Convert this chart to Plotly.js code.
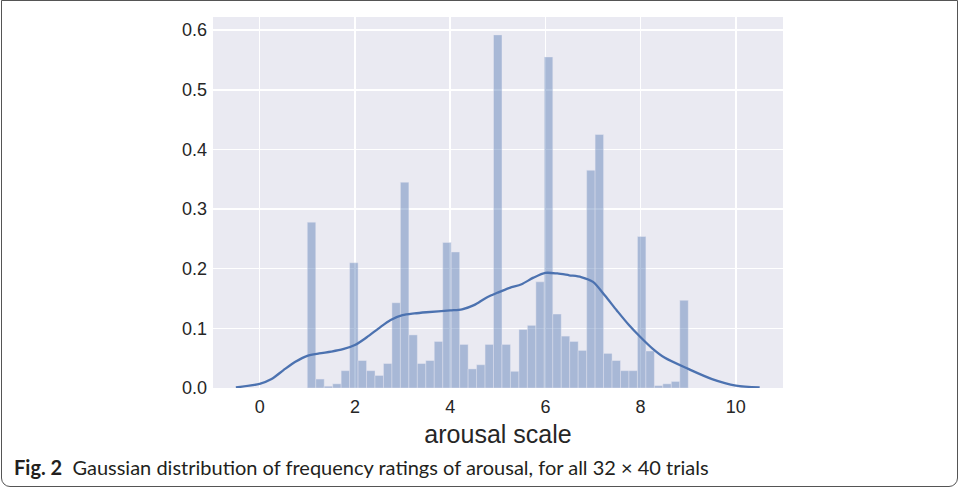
<!DOCTYPE html>
<html>
<head>
<meta charset="utf-8">
<script src="https://cdn.plot.ly/plotly-3.0.1.min.js"></script>
<style>
  html, body { margin: 0; padding: 0; background: #ffffff; }
  #frame { position: absolute; left: 0; top: 0; width: 959px; height: 490px; }
  #box { position: absolute; left: 1px; top: 0px; width: 955px; height: 485px;
         border: 1.5px solid #555; border-radius: 0 0 9px 9px; pointer-events: none; }
  #chart { position: absolute; left: 0; top: 0; width: 959px; height: 490px; }
</style>
</head>
<body>
<div id="frame">
  <div id="chart"></div>
  <div id="box"></div>
</div>
<script>
// Histogram: 45 equal bins between binLo and binHi (density values)
const binLo = 1;
const binHi = 9;
const density = [
  0.278, 0.015, 0.003, 0.007, 0.029, 0.210, 0.046, 0.029, 0.021, 0.041,
  0.143, 0.345, 0.089, 0.041, 0.046, 0.078, 0.244, 0.228, 0.073, 0.032,
  0.039, 0.073, 0.592, 0.073, 0.028, 0.098, 0.105, 0.178, 0.555, 0.124,
  0.087, 0.078, 0.063, 0.365, 0.425, 0.058, 0.046, 0.029, 0.029, 0.254,
  0.062, 0.004, 0.007, 0.011, 0.147
];

// Gaussian KDE curve
const kdeX = [-0.5, 0, 0.25, 0.5, 0.75, 1.0, 1.25, 1.5, 1.75, 2.0, 2.25, 2.5, 2.75, 3.0, 3.25, 3.5,
              4.0, 4.25, 4.5, 4.75, 5.0, 5.25, 5.5, 5.75, 6.0, 6.25, 6.5, 6.75, 7.0, 7.25, 7.5,
              7.75, 8.0, 8.25, 8.5, 9.0, 9.5, 10.0, 10.5];
const kdeY = [0.001, 0.007, 0.015, 0.030, 0.044, 0.054, 0.058, 0.061, 0.065, 0.072, 0.085, 0.100, 0.114, 0.122, 0.125, 0.127,
              0.130, 0.132, 0.139, 0.151, 0.160, 0.168, 0.174, 0.185, 0.193, 0.192, 0.189, 0.186, 0.178, 0.155, 0.130,
              0.106, 0.085, 0.066, 0.051, 0.032, 0.015, 0.004, 0.001];

const xTickVals = [0, 2, 4, 6, 8, 10];
const yTickVals = [0.0, 0.1, 0.2, 0.3, 0.4, 0.5, 0.6];
const xTitle = 'arousal scale';
const captionBold = 'Fig. 2';
const captionText = 'Gaussian distribution of frequency ratings of arousal, for all 32 \u00d7 40 trials';

const binWidth = (binHi - binLo) / density.length;
const binCenters = density.map((_, i) => binLo + (i + 0.5) * binWidth);

const blue = '#4c72b0';

const traces = [
  {
    type: 'bar',
    x: binCenters,
    y: density,
    width: binCenters.map(() => binWidth),
    marker: { color: 'rgba(76,114,176,0.42)', line: { color: 'rgba(234,234,242,0.7)', width: 0.6 } },
    hoverinfo: 'x+y',
    showlegend: false
  },
  {
    type: 'scatter',
    mode: 'lines',
    x: kdeX,
    y: kdeY,
    line: { color: blue, width: 2.3, shape: 'spline', smoothing: 0.8 },
    showlegend: false
  }
];

const layout = {
  width: 959,
  height: 490,
  margin: { l: 213, r: 176, t: 17, b: 102, pad: 0 },
  paper_bgcolor: '#ffffff',
  plot_bgcolor: '#eaeaf2',
  bargap: 0,
  font: { family: 'Liberation Sans, Arial, sans-serif', color: '#262626' },
  xaxis: {
    range: [-0.98, 10.99],
    tickvals: xTickVals,
    ticktext: xTickVals.map(v => String(v)),
    showgrid: true,
    gridcolor: '#ffffff',
    gridwidth: 1.5,
    zeroline: false,
    showline: false,
    ticks: '',
    ticklabelstandoff: 6,
    tickfont: { size: 18, color: '#262626' },
    title: { text: xTitle, font: { size: 25, color: '#262626' }, standoff: 9 }
  },
  yaxis: {
    range: [0, 0.622],
    tickvals: yTickVals,
    ticktext: yTickVals.map(v => v.toFixed(1)),
    showgrid: true,
    gridcolor: '#ffffff',
    gridwidth: 1.5,
    zeroline: false,
    showline: false,
    ticks: '',
    ticklabelstandoff: 5,
    tickfont: { size: 18, color: '#262626' }
  },
  annotations: [
    {
      xref: 'paper', yref: 'paper',
      x: (12 - 213) / 570, y: -79 / 371,
      xanchor: 'left', yanchor: 'middle',
      showarrow: false,
      align: 'left',
      text: '<b>' + captionBold + '</b>\u00a0\u00a0' + captionText,
      font: { family: 'Lato, Roboto, sans-serif', size: 20, color: '#231f20' }
    }
  ]
};

Plotly.newPlot('chart', traces, layout, { displayModeBar: false, staticPlot: true });
</script>
</body>
</html>
